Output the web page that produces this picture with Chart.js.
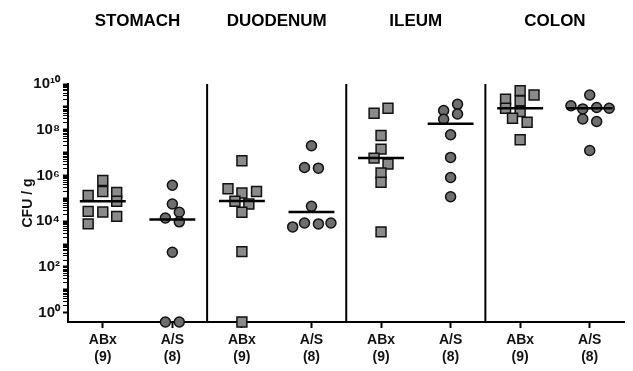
<!DOCTYPE html>
<html>
<head>
<meta charset="utf-8">
<script src="https://cdn.jsdelivr.net/npm/chart.js@4"></script>
<style>
  body { margin: 0; background: #fff; }
  canvas { display: block; }
</style>
</head>
<body>
<canvas id="cfu" width="633" height="371"></canvas>
<script>
const regions = ['STOMACH', 'DUODENUM', 'ILEUM', 'COLON'];
const groups = ['ABx', 'A/S'];
const groupN = ['(9)', '(8)'];

// log10 CFU/g per mouse, null = nothing recovered (plotted on the axis)
const stomachAbx = [5.78, 5.30, 5.26, 5.12, 4.87, 4.43, 4.40, 4.21, 3.88];
const stomachAs = [5.57, 4.75, 4.39, 4.14, 3.97, 2.64, null, null];
const duodenumAbx = [6.64, 5.42, 5.30, 5.23, 4.87, 4.75, 4.39, 2.67, null];
const duodenumAs = [7.30, 6.35, 6.32, 4.65, 3.92, 3.92, 3.88, 3.75];
const ileumAbx = [8.94, 8.72, 7.75, 7.15, 6.76, 6.50, 6.11, 5.70, 3.53];
const ileumAs = [9.11, 8.84, 8.69, 8.46, 7.78, 6.79, 5.91, 5.07];
const colonAbx = [9.71, 9.52, 9.33, 9.26, 8.94, 8.79, 8.50, 8.33, 7.56];
const colonAs = [9.52, 9.05, 8.97, 8.94, 8.91, 8.47, 8.36, 7.09];

// horizontal scatter of each point (category units)
const stomachAbxJit = [0, 0, 0.2, -0.21, 0.2, -0.21, 0, 0.2, -0.21];
const stomachAsJit = [0, 0, 0.1, -0.1, 0.1, 0, -0.1, 0.1];
const duodenumAbxJit = [0, -0.2, 0.21, 0, -0.1, 0.1, 0, 0, 0];
const duodenumAsJit = [0, -0.1, 0.1, 0, -0.1, 0.28, 0.1, -0.27];
const ileumAbxJit = [0.1, -0.1, 0, 0, -0.1, 0.1, 0, 0, 0];
const ileumAsJit = [0.1, -0.1, 0.1, -0.1, 0, 0, 0, 0];
const colonAbxJit = [0, 0.2, -0.21, 0, -0.21, 0, -0.11, 0.1, 0];
const colonAsJit = [0, -0.27, 0.1, 0.28, -0.1, -0.1, 0.1, 0];

const medians = [4.87, 4.07, 4.88, 4.40, 6.76, 8.26, 8.94, 8.94];

const yMin = Math.pow(10, -0.41);
const yMax = 1e10;
const sup = { '0': '\u2070', '1': '\u00b9', '2': '\u00b2', '4': '\u2074', '6': '\u2076', '8': '\u2078' };

const series = [
  [stomachAbx, stomachAbxJit], [stomachAs, stomachAsJit],
  [duodenumAbx, duodenumAbxJit], [duodenumAs, duodenumAsJit],
  [ileumAbx, ileumAbxJit], [ileumAs, ileumAsJit],
  [colonAbx, colonAbxJit], [colonAs, colonAsJit]
];

const datasets = [];

// median bars
medians.forEach((m, i) => {
  datasets.push({
    data: [{ x: i + 0.5 - 0.33, y: Math.pow(10, m) }, { x: i + 0.5 + 0.33, y: Math.pow(10, m) }],
    showLine: true, borderColor: '#000', borderWidth: 2.5, pointRadius: 0, order: 0
  });
});

// region separators
[2, 4, 6].forEach(x => {
  datasets.push({
    data: [{ x: x, y: yMin }, { x: x, y: yMax }],
    showLine: true, borderColor: '#000', borderWidth: 2, pointRadius: 0, order: 2
  });
});

series.forEach(([vals, jit], i) => {
  const isAbx = i % 2 === 0;
  datasets.push({
    data: vals.map((v, k) => ({ x: i + 0.5 + jit[k], y: v === null ? yMin : Math.pow(10, v) })),
    pointStyle: isAbx ? 'rect' : 'circle',
    pointRadius: isAbx ? 7 : 5,
    backgroundColor: isAbx ? '#8a8a8a' : '#6e6e6e',
    borderColor: '#111',
    borderWidth: 1.5,
    clip: false,
    order: 1
  });
});

const yTicks = [];
for (let n = 0; n < 10; n++) {
  for (let k = 1; k < 10; k++) yTicks.push({ value: k * Math.pow(10, n), major: k === 1 });
}
yTicks.push({ value: 1e10, major: true });

const boldFont = 'Liberation Sans, Arial, sans-serif';
const noSidePad = s => { s.paddingLeft = 0; s.paddingRight = 0; };

new Chart(document.getElementById('cfu').getContext('2d'), {
  type: 'scatter',
  data: { datasets },
  options: {
    responsive: false,
    animation: false,
    devicePixelRatio: 1,
    layout: { padding: { left: 0, right: 3, top: 0, bottom: 0 } },
    plugins: { legend: { display: false }, tooltip: { enabled: false } },
    scales: {
      x: {
        type: 'linear', position: 'bottom', min: 0, max: 8,
        afterBuildTicks: s => { s.ticks = [0, 1, 2, 3, 4, 5, 6, 7].map(i => ({ value: i + 0.5 })); },
        afterFit: s => { s.height = 49; noSidePad(s); },
        ticks: {
          autoSkip: false, maxRotation: 0, padding: 4, color: '#111',
          font: { family: boldFont, weight: 'bold', size: 14 },
          callback: (v) => { const i = Math.floor(v); return [groups[i % 2], groupN[i % 2]]; }
        },
        grid: { drawOnChartArea: false, tickLength: 6, tickWidth: 2, tickColor: '#000' },
        border: { color: '#000', width: 2 }
      },
      top: {
        type: 'linear', position: 'top', min: 0, max: 8,
        afterBuildTicks: s => { s.ticks = [1, 3, 5, 7].map(v => ({ value: v })); },
        afterFit: s => { s.height = 84; noSidePad(s); },
        ticks: {
          autoSkip: false, maxRotation: 0, padding: 52, color: '#000',
          font: { family: boldFont, weight: 'bold', size: 17 },
          callback: (v) => regions[(v - 1) / 2]
        },
        grid: { display: false, drawTicks: false },
        border: { display: false }
      },
      y: {
        type: 'logarithmic', min: yMin, max: yMax,
        afterBuildTicks: s => { s.ticks = yTicks.map(t => ({ value: t.value, major: t.major })); },
        afterFit: s => { s.width = 68; },
        ticks: {
          autoSkip: false, padding: 3, color: '#111',
          font: { family: boldFont, weight: 'bold', size: 15 },
          callback: (v) => {
            const e = Math.round(Math.log10(v));
            if (Math.abs(Math.log10(v) - e) > 1e-6 || e % 2 !== 0) return '';
            return '10' + String(e).split('').map(c => sup[c]).join('');
          }
        },
        grid: {
          drawOnChartArea: false, tickLength: 5, tickColor: '#000',
          tickWidth: c => (c.tick && c.tick.major ? 2 : 1)
        },
        border: { color: '#000', width: 2 },
        title: {
          display: true, text: 'CFU / g', color: '#111',
          font: { family: boldFont, weight: 'bold', size: 14 },
          padding: { top: 20, bottom: 0 }
        }
      }
    }
  }
});
</script>
</body>
</html>
